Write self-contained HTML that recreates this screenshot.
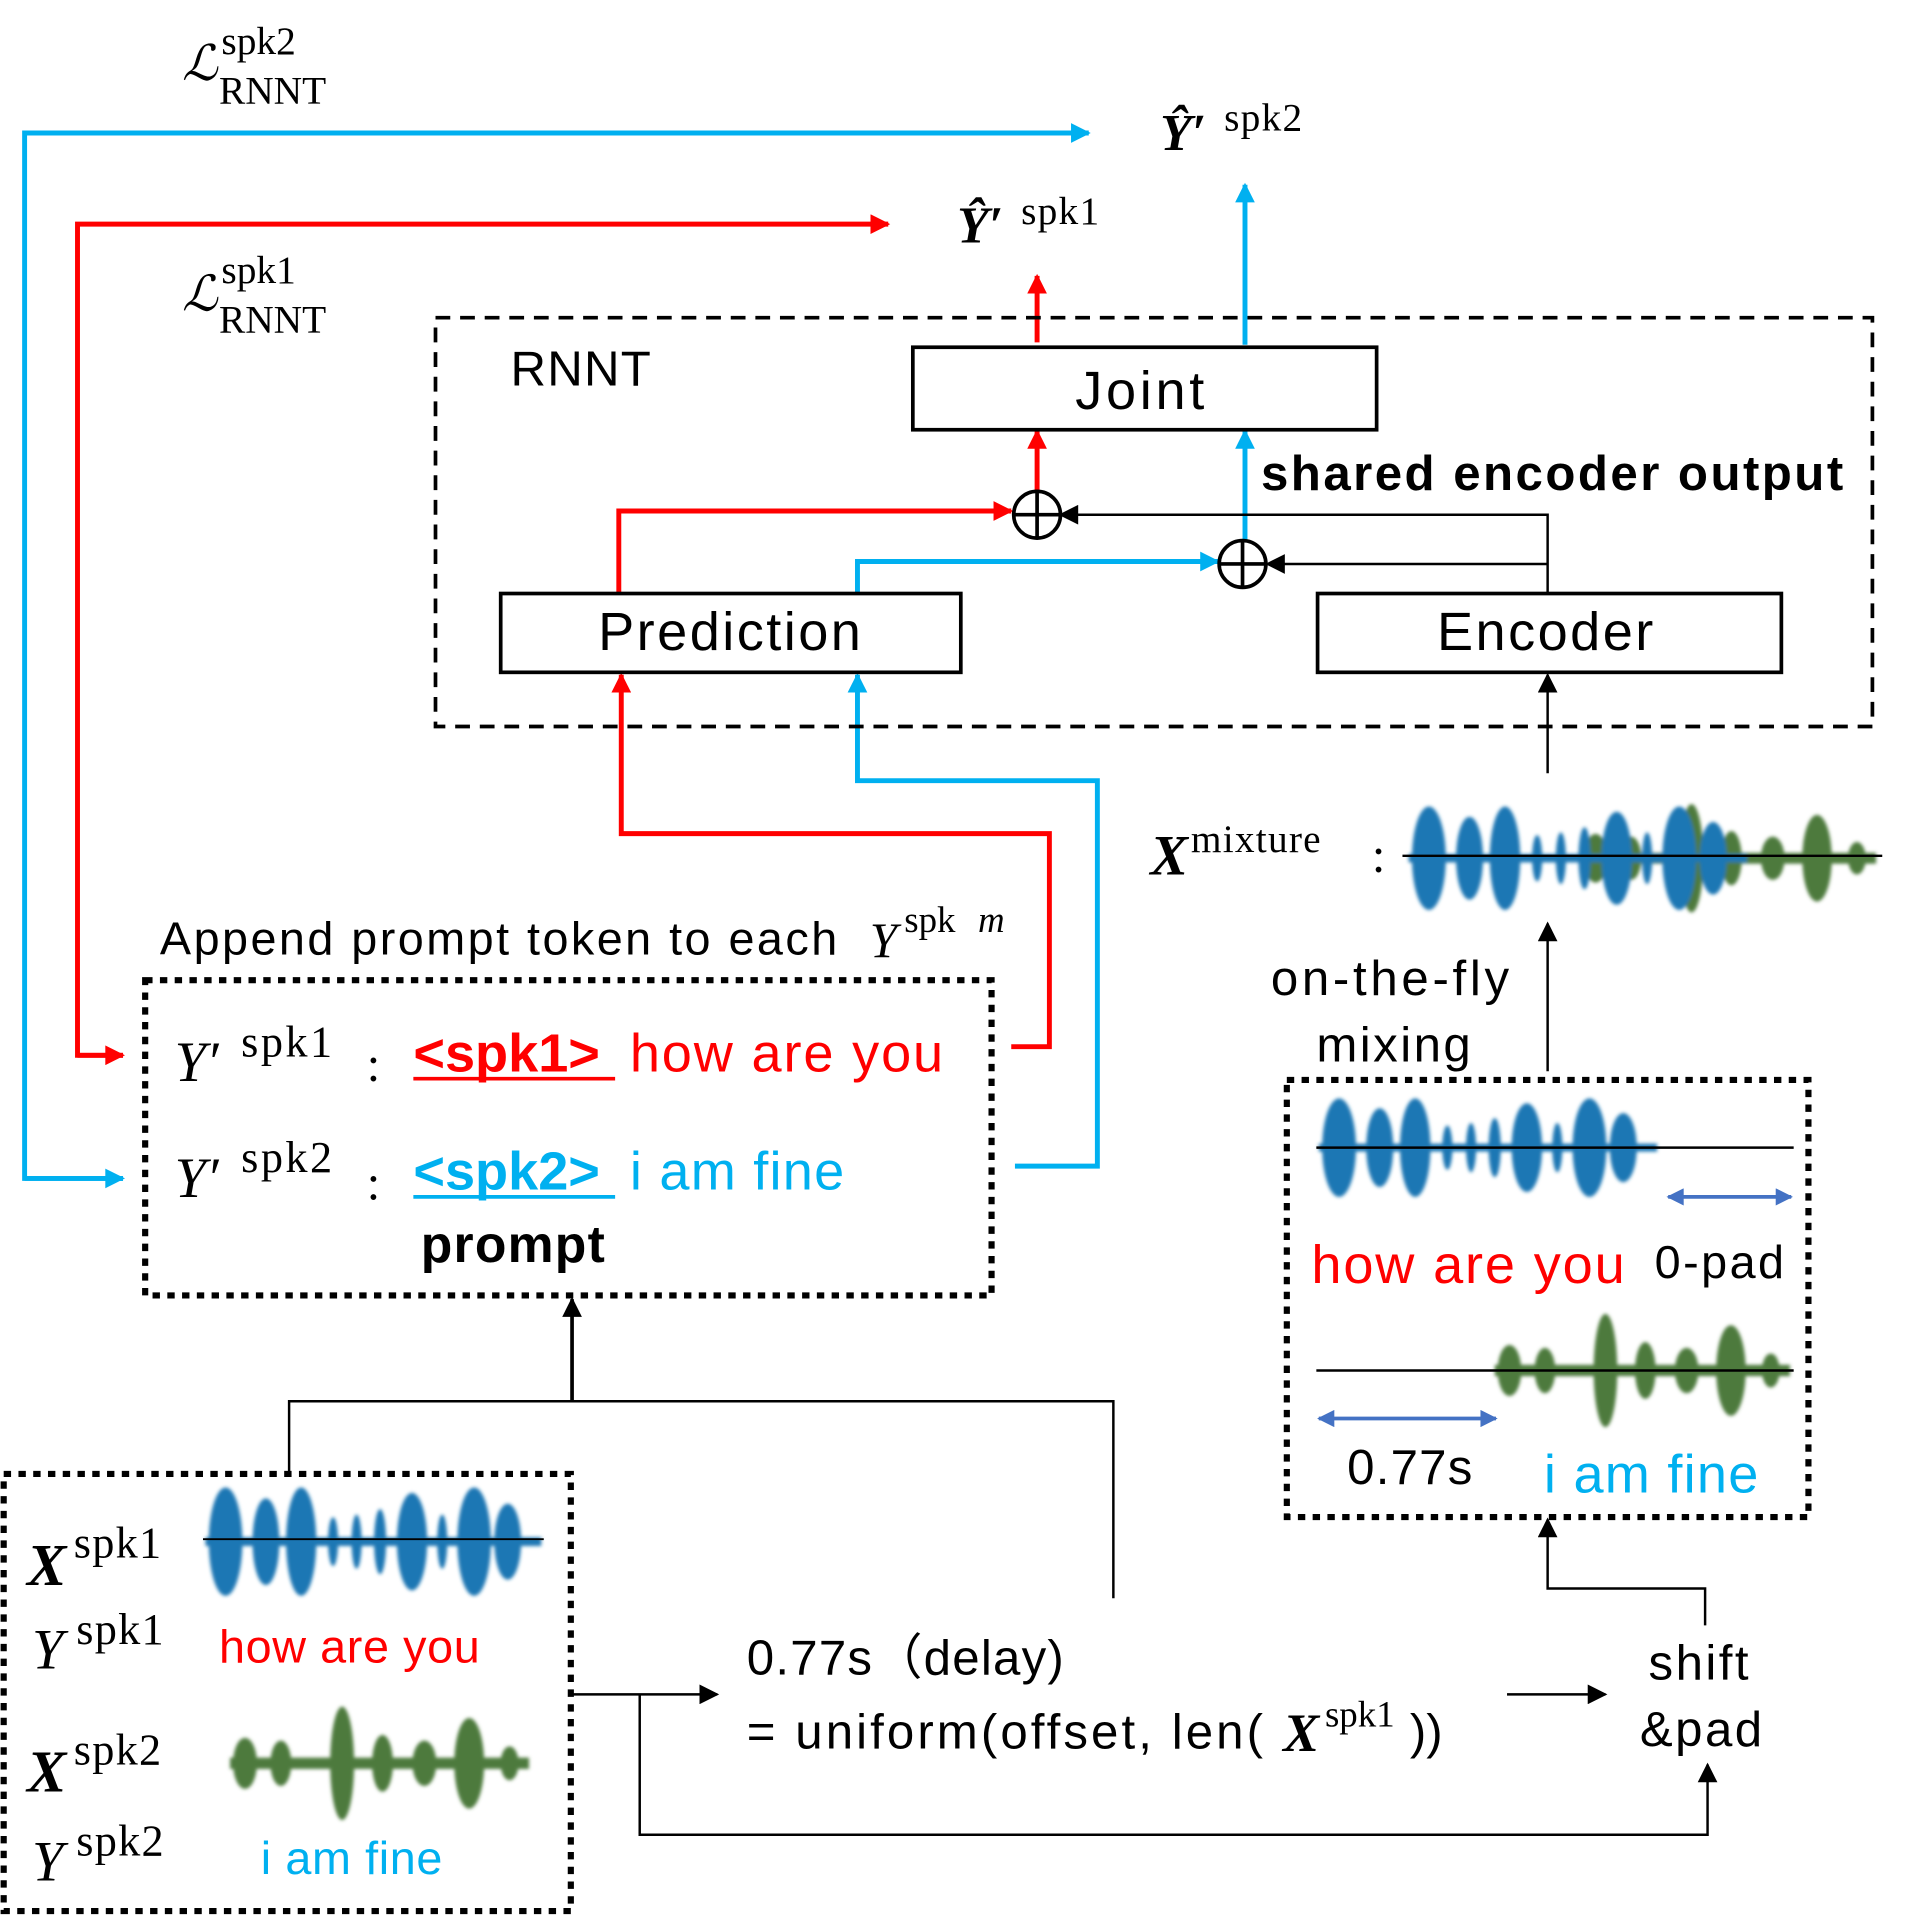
<!DOCTYPE html>
<html><head><meta charset="utf-8"><style>
html,body{margin:0;padding:0;background:#fff}
svg{display:block}
text{font-family:"Liberation Sans","DejaVu Sans",sans-serif}
.s{font-family:"Liberation Serif",serif}
</style></head><body>
<svg width="1929" height="1916" viewBox="0 0 1568 1556" preserveAspectRatio="none" xmlns="http://www.w3.org/2000/svg">
<defs>
<marker id="abk" viewBox="0 0 10 10" markerWidth="20" markerHeight="16" refX="9" refY="5" orient="auto" markerUnits="userSpaceOnUse"><path d="M0,0 L10,5 L0,10z" fill="#000"/></marker>
<marker id="ar" viewBox="0 0 10 10" markerWidth="20" markerHeight="16" refX="9" refY="5" orient="auto" markerUnits="userSpaceOnUse"><path d="M0,0 L10,5 L0,10z" fill="#f00"/></marker>
<marker id="au" viewBox="0 0 10 10" markerWidth="20" markerHeight="16" refX="9" refY="5" orient="auto" markerUnits="userSpaceOnUse"><path d="M0,0 L10,5 L0,10z" fill="#00b0f0"/></marker>
<marker id="ad" viewBox="0 0 10 10" markerWidth="16" markerHeight="14" refX="9" refY="5" orient="auto-start-reverse" markerUnits="userSpaceOnUse"><path d="M0,0 L10,5 L0,10z" fill="#4472c4"/></marker>
<filter id="bl" x="-10%" y="-30%" width="120%" height="160%"><feGaussianBlur stdDeviation="1.5"/></filter>
<g id="wb">
<ellipse cx="0.06" cy="0" rx="0.05" ry="1"/>
<ellipse cx="0.18" cy="0" rx="0.04" ry="0.8"/>
<ellipse cx="0.285" cy="0" rx="0.045" ry="1"/>
<ellipse cx="0.38" cy="0" rx="0.015" ry="0.45"/>
<ellipse cx="0.45" cy="0" rx="0.015" ry="0.5"/>
<ellipse cx="0.52" cy="0" rx="0.018" ry="0.6"/>
<ellipse cx="0.615" cy="0" rx="0.045" ry="0.9"/>
<ellipse cx="0.705" cy="0" rx="0.015" ry="0.5"/>
<ellipse cx="0.8" cy="0" rx="0.05" ry="1"/>
<ellipse cx="0.9" cy="0" rx="0.04" ry="0.7"/>
<rect x="0" y="-0.08" width="1" height="0.16"/>
</g>
<g id="wg">
<ellipse cx="0.05" cy="0" rx="0.04" ry="0.45"/>
<ellipse cx="0.17" cy="0" rx="0.035" ry="0.4"/>
<ellipse cx="0.375" cy="0" rx="0.04" ry="1"/>
<ellipse cx="0.51" cy="0" rx="0.035" ry="0.5"/>
<ellipse cx="0.65" cy="0" rx="0.04" ry="0.4"/>
<ellipse cx="0.8" cy="0" rx="0.05" ry="0.8"/>
<ellipse cx="0.935" cy="0" rx="0.03" ry="0.3"/>
<rect x="0" y="-0.1" width="1" height="0.2"/>
</g>
</defs>

<text class="s" x="148" y="65" font-size="40" font-style="italic">ℒ</text>
<text class="s" x="180" y="44" font-size="32">spk2</text>
<text class="s" x="178" y="84" font-size="32">RNNT</text>
<text class="s" x="148" y="252" font-size="40" font-style="italic">ℒ</text>
<text class="s" x="180" y="230" font-size="32">spk1</text>
<text class="s" x="178" y="270" font-size="32">RNNT</text>

<text class="s" x="943" y="122" font-size="42" font-weight="bold" font-style="italic">Ŷ′</text>
<text class="s" x="995" y="106" font-size="32" letter-spacing="1">spk2</text>
<text class="s" x="778" y="197" font-size="42" font-weight="bold" font-style="italic">Ŷ′</text>
<text class="s" x="830" y="182" font-size="32" letter-spacing="1">spk1</text>

<g fill="none" stroke-width="4">
<polyline points="100,957 20,957 20,108 885,108" stroke="#00b0f0" marker-end="url(#au)"/>
<line x1="20" y1="957" x2="100" y2="957" stroke="#00b0f0" marker-end="url(#au)"/>
<polyline points="100,857 63,857 63,182 722,182" stroke="#f00" marker-end="url(#ar)"/>
<line x1="63" y1="857" x2="100" y2="857" stroke="#f00" marker-end="url(#ar)"/>
<line x1="1012" y1="280" x2="1012" y2="150" stroke="#00b0f0" marker-end="url(#au)"/>
<line x1="843" y1="278" x2="843" y2="224" stroke="#f00" marker-end="url(#ar)"/>
<polyline points="503,482 503,415 822,415" stroke="#f00" marker-end="url(#ar)"/>
<line x1="843" y1="398" x2="843" y2="350" stroke="#f00" marker-end="url(#ar)"/>
<polyline points="697,482 697,456 990,456" stroke="#00b0f0" marker-end="url(#au)"/>
<line x1="1012" y1="438" x2="1012" y2="350" stroke="#00b0f0" marker-end="url(#au)"/>
<polyline points="822,850 853,850 853,677 505,677 505,548" stroke="#f00" marker-end="url(#ar)"/>
<polyline points="825,947 892,947 892,634 697,634 697,548" stroke="#00b0f0" marker-end="url(#au)"/>
</g>

<rect x="354" y="258" width="1168" height="332" fill="none" stroke="#000" stroke-width="3" stroke-dasharray="12,8"/>
<text x="415" y="313" font-size="40" letter-spacing="1">RNNT</text>
<rect x="742" y="282" width="377" height="67" fill="#fff" stroke="#000" stroke-width="3"/>
<text x="928" y="332" font-size="44" text-anchor="middle" letter-spacing="3">Joint</text>
<text x="1025" y="398" font-size="40" font-weight="bold" letter-spacing="2">shared encoder output</text>
<rect x="407" y="482" width="374" height="64" fill="#fff" stroke="#000" stroke-width="3"/>
<text x="594" y="528" font-size="44" text-anchor="middle" letter-spacing="2">Prediction</text>
<rect x="1071" y="482" width="377" height="64" fill="#fff" stroke="#000" stroke-width="3"/>
<text x="1257" y="528" font-size="44" text-anchor="middle" letter-spacing="2">Encoder</text>

<g fill="none" stroke="#000" stroke-width="2">
<polyline points="1258,482 1258,418 862,418" marker-end="url(#abk)"/>
<line x1="1258" y1="458" x2="1030" y2="458" marker-end="url(#abk)"/>
<line x1="1258" y1="628" x2="1258" y2="548" marker-end="url(#abk)"/>
<line x1="1258" y1="870" x2="1258" y2="750" marker-end="url(#abk)"/>
<polyline points="1386,1320 1386,1290 1258,1290 1258,1234" marker-end="url(#abk)"/>
<line x1="1225" y1="1376" x2="1305" y2="1376" marker-end="url(#abk)"/>
<polyline points="520,1376 520,1490 1388,1490 1388,1433" marker-end="url(#abk)"/>
<line x1="466" y1="1376" x2="583" y2="1376" marker-end="url(#abk)"/>
<polyline points="235,1197 235,1138 905,1138 905,1298"/>
<line x1="465" y1="1138" x2="465" y2="1055" stroke-width="3" marker-end="url(#abk)"/>
</g>
<g fill="none" stroke="#000" stroke-width="3">
<circle cx="843" cy="418" r="19"/><line x1="824" y1="418" x2="862" y2="418"/><line x1="843" y1="399" x2="843" y2="437"/>
<circle cx="1010" cy="458" r="19"/><line x1="991" y1="458" x2="1029" y2="458"/><line x1="1010" y1="439" x2="1010" y2="477"/>
</g>

<text class="s" x="935" y="710" font-size="46" font-weight="bold" font-style="italic">X</text>
<text class="s" x="968" y="692" font-size="32" letter-spacing="1">mixture</text>
<text class="s" x="1115" y="708" font-size="40">:</text>
<g filter="url(#bl)">
<use href="#wg" fill="#4e7a3c" transform="translate(1285,697) scale(240,44)"/>
<use href="#wb" fill="#1f77b4" transform="translate(1145,697) scale(275,42)"/>
</g>
<line x1="1140" y1="695" x2="1530" y2="695" stroke="#000" stroke-width="2"/>
<text x="1033" y="808" font-size="40" letter-spacing="3">on-the-fly</text>
<text x="1070" y="862" font-size="40" letter-spacing="2">mixing</text>

<rect x="1046" y="877" width="424" height="355" fill="none" stroke="#000" stroke-width="5" stroke-dasharray="6,6"/>
<g filter="url(#bl)"><use href="#wb" fill="#1f77b4" transform="translate(1072,932) scale(275,40)"/></g>
<line x1="1070" y1="932" x2="1458" y2="932" stroke="#000" stroke-width="2"/>
<line x1="1356" y1="972" x2="1456" y2="972" stroke="#4472c4" stroke-width="3" marker-start="url(#ad)" marker-end="url(#ad)"/>
<text x="1066" y="1042" font-size="44" fill="#f00" letter-spacing="1.5">how are you</text>
<text x="1345" y="1038" font-size="38" letter-spacing="2">0-pad</text>
<g filter="url(#bl)"><use href="#wg" fill="#4e7a3c" transform="translate(1215,1113) scale(240,46)"/></g>
<line x1="1070" y1="1113" x2="1458" y2="1113" stroke="#000" stroke-width="2"/>
<line x1="1072" y1="1152" x2="1216" y2="1152" stroke="#4472c4" stroke-width="3" marker-start="url(#ad)" marker-end="url(#ad)"/>
<text x="1095" y="1205" font-size="40" letter-spacing="1">0.77s</text>
<text x="1255" y="1212" font-size="44" fill="#00b0f0" letter-spacing="1">i am fine</text>

<text x="1340" y="1364" font-size="40" letter-spacing="2">shift</text>
<text x="1333" y="1418" font-size="40" letter-spacing="2">&amp;pad</text>

<text x="607" y="1360" font-size="40" letter-spacing="1">0.77s（delay)</text>
<text x="607" y="1420" font-size="40" letter-spacing="2.5">= uniform(offset, len(</text>
<text class="s" x="1043" y="1422" font-size="44" font-weight="bold" font-style="italic">X</text>
<text class="s" x="1077" y="1402" font-size="30">spk1</text>
<text x="1146" y="1420" font-size="40">))</text>

<text x="130" y="775" font-size="38" letter-spacing="2">Append prompt token to each</text>
<text class="s" x="707" y="777" font-size="40" font-style="italic">Y</text>
<text class="s" x="735" y="757" font-size="30">spk</text>
<text class="s" x="795" y="757" font-size="30" font-style="italic">m</text>
<rect x="118" y="796" width="688" height="256" fill="none" stroke="#000" stroke-width="5" stroke-dasharray="6,6"/>
<text class="s" x="142" y="878" font-size="46" font-style="italic">Y′</text>
<text class="s" x="196" y="858" font-size="36" letter-spacing="2">spk1</text>
<text class="s" x="298" y="878" font-size="40">:</text>
<text x="336" y="870" font-size="44" font-weight="bold" fill="#f00">&lt;spk1&gt;</text>
<line x1="336" y1="876" x2="500" y2="876" stroke="#f00" stroke-width="3"/>
<text x="512" y="870" font-size="44" fill="#f00" letter-spacing="1.5">how are you</text>
<text class="s" x="142" y="972" font-size="46" font-style="italic">Y′</text>
<text class="s" x="196" y="952" font-size="36" letter-spacing="2">spk2</text>
<text class="s" x="298" y="974" font-size="40">:</text>
<text x="336" y="966" font-size="44" font-weight="bold" fill="#00b0f0">&lt;spk2&gt;</text>
<line x1="336" y1="972" x2="500" y2="972" stroke="#00b0f0" stroke-width="3"/>
<text x="512" y="966" font-size="44" fill="#00b0f0" letter-spacing="1">i am fine</text>
<text x="342" y="1025" font-size="42" font-weight="bold" letter-spacing="1">prompt</text>

<rect x="3" y="1197" width="461" height="355" fill="none" stroke="#000" stroke-width="5" stroke-dasharray="6,6"/>
<text class="s" x="22" y="1287" font-size="48" font-weight="bold" font-style="italic">X</text>
<text class="s" x="60" y="1265" font-size="36" letter-spacing="1">spk1</text>
<g filter="url(#bl)"><use href="#wb" fill="#1f77b4" transform="translate(167,1252) scale(273,44)"/></g>
<line x1="165" y1="1250" x2="442" y2="1250" stroke="#000" stroke-width="1.5"/>
<text class="s" x="26" y="1355" font-size="46" font-style="italic">Y</text>
<text class="s" x="62" y="1335" font-size="36" letter-spacing="1">spk1</text>
<text x="178" y="1350" font-size="38" fill="#f00" letter-spacing="0.5">how are you</text>
<text class="s" x="22" y="1455" font-size="48" font-weight="bold" font-style="italic">X</text>
<text class="s" x="60" y="1433" font-size="36" letter-spacing="1">spk2</text>
<g filter="url(#bl)"><use href="#wg" fill="#4e7a3c" transform="translate(187,1432) scale(243,46)"/></g>
<text class="s" x="26" y="1527" font-size="46" font-style="italic">Y</text>
<text class="s" x="62" y="1507" font-size="36" letter-spacing="1">spk2</text>
<text x="212" y="1522" font-size="38" fill="#00b0f0" letter-spacing="0.5">i am fine</text>
</svg>
</body></html>
